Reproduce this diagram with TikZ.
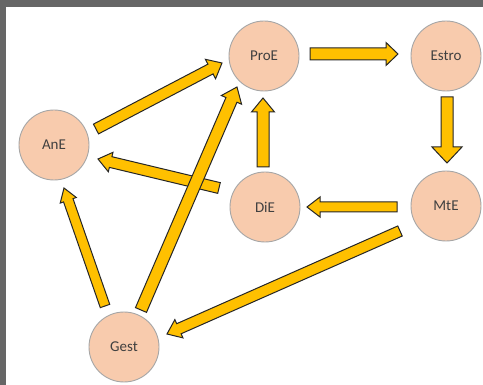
\documentclass[tikz,border=0pt]{standalone}
\usepackage{fontspec}
\setmainfont{Carlito}
\usetikzlibrary{calc}
\definecolor{peach}{HTML}{F8CBAD}
\definecolor{ring}{HTML}{A6A6A6}
\definecolor{arrowyellow}{HTML}{FFC000}
\definecolor{frame}{HTML}{666666}
\definecolor{txt}{HTML}{404040}
\tikzset{
  state/.style={circle, draw=ring, line width=0.9pt, fill=peach, minimum size=70pt,
    inner sep=0pt, text=txt, font=\fontsize{15}{18}\selectfont},
  barrow/.style n args={3}{draw=black!85, fill=arrowyellow, line width=1pt, line join=miter,
    to path={let \p1=(\tikztostart), \p2=(\tikztotarget),
      \n1={atan2(\y2-\y1,\x2-\x1)}, \n2={veclen(\x2-\x1,\y2-\y1)}, \n3={\n2-#3} in
      ($(\p1)+(\n1+90:#1/2)$) -- ($(\p1)+(\n1:\n3)+(\n1+90:#1/2)$)
      -- ($(\p1)+(\n1:\n3)+(\n1+90:#2/2)$) -- (\p2)
      -- ($(\p1)+(\n1:\n3)+(\n1-90:#2/2)$) -- ($(\p1)+(\n1:\n3)+(\n1-90:#1/2)$)
      -- ($(\p1)+(\n1-90:#1/2)$) -- cycle}}
}
\begin{document}
\begin{tikzpicture}[x=1pt,y=1pt]
\useasboundingbox (0,0) rectangle (483,-385);
\fill[white] (0,0) rectangle (483,-385);
\fill[frame] (0,0) rectangle (483,-7);
\fill[frame] (0,0) rectangle (6,-385);

\node[state] (ProE)  at (264,-56)  {ProE};
\node[state] (Estro) at (446,-56)  {Estro};
\node[state] (MtE)   at (446,-206) {MtE};
\node[state] (DiE)   at (265,-207) {DiE};
\node[state] (AnE)   at (54,-145)  {AnE};
\node[state] (Gest)  at (124,-347) {Gest};

\draw[barrow={11}{22}{13}] ($(AnE)+(42,16)$) to ($(ProE)+(-42,-7)$);
\draw[barrow={12}{23}{12}] ($(ProE)+(46,2)$) to ($(Estro)+(-48,2)$);
\draw[barrow={12}{30}{16}] ($(Estro)+(1,-41)$) to ($(MtE)+(1,43)$);
\draw[barrow={10}{20}{13}] ($(MtE)+(-49,-1)$) to ($(DiE)+(42,0)$);
\draw[barrow={12}{23}{14}] ($(DiE)+(-2,40)$) to ($(ProE)+(-1,-42)$);
\draw[barrow={11}{20}{13}] ($(DiE)+(-46,19)$) to ($(AnE)+(44,-14)$);
\draw[barrow={10}{17}{13}] ($(Gest)+(-19,41)$) to ($(AnE)+(10,-43)$);
\draw[barrow={12}{22}{14}] ($(Gest)+(17,37)$) to ($(ProE)+(-27,-31)$);
\draw[barrow={11}{20}{13}] ($(MtE)+(-46,-25)$) to ($(Gest)+(43,13)$);
\end{tikzpicture}
\end{document}
